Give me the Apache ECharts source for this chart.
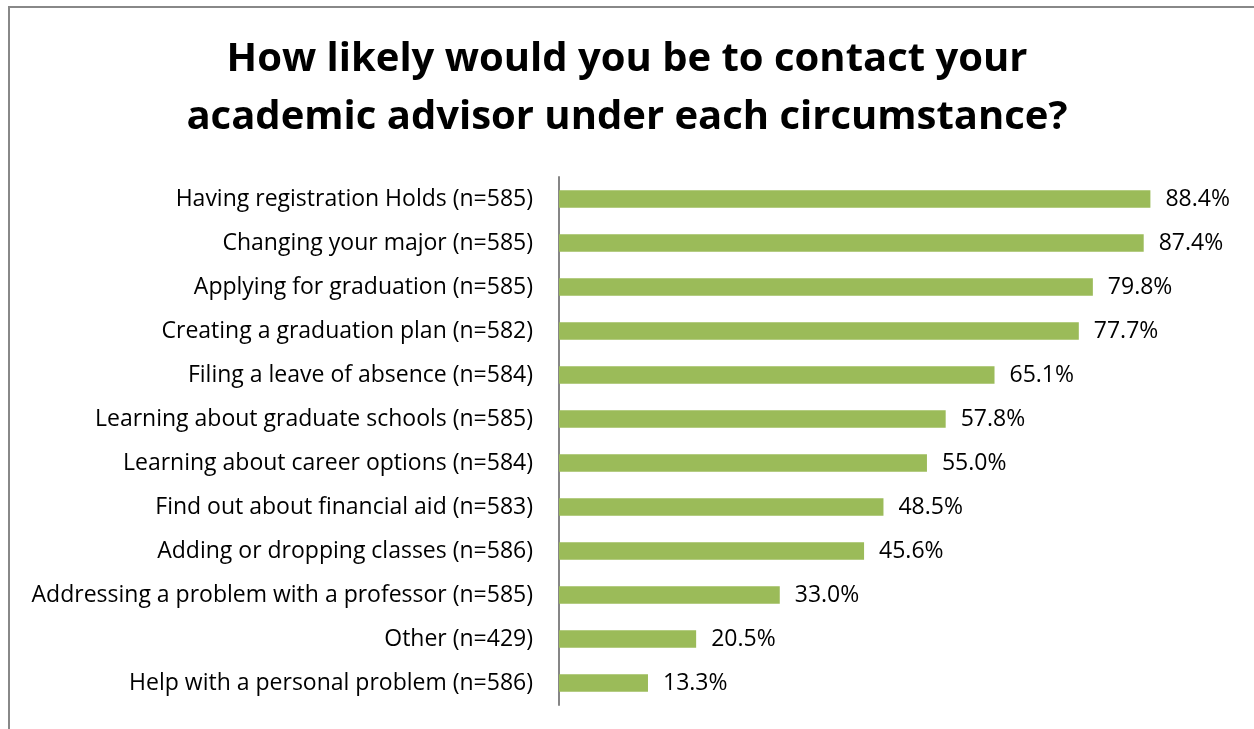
<!DOCTYPE html>
<html>
<head>
<meta charset="utf-8">
<script src="https://cdn.jsdelivr.net/npm/echarts@6/dist/echarts.min.js"></script>
<style>
html,body{margin:0;padding:0;background:#fff;}
#chart{width:1254px;height:729px;}
</style>
</head>
<body>
<div id="chart"></div>
<script>
const titleText = 'How likely would you be to contact your\nacademic advisor under each circumstance?';
const categories = [
  'Having registration Holds (n=585)',
  'Changing your major (n=585)',
  'Applying for graduation (n=585)',
  'Creating a graduation plan (n=582)',
  'Filing a leave of absence (n=584)',
  'Learning about graduate schools (n=585)',
  'Learning about career options (n=584)',
  'Find out about financial aid (n=583)',
  'Adding or dropping classes (n=586)',
  'Addressing a problem with a professor (n=585)',
  'Other (n=429)',
  'Help with a personal problem (n=586)'
];
const values = [88.4, 87.4, 79.8, 77.7, 65.1, 57.8, 55.0, 48.5, 45.6, 33.0, 20.5, 13.3];

const chart = echarts.init(document.getElementById('chart'));
chart.setOption({
  backgroundColor: '#fff',
  animation: false,
  graphic: [{
    type: 'rect',
    shape: {x: 9, y: 7, width: 1400, height: 900},
    style: {fill: 'none', stroke: '#888', lineWidth: 2},
    silent: true
  }],
  title: {
    text: titleText,
    left: 'center',
    top: 26,
    textStyle: {
      fontFamily: 'Open Sans',
      fontWeight: 'bold',
      fontSize: 40,
      lineHeight: 58,
      color: '#000'
    }
  },
  grid: {left: 559, right: 26, top: 177, bottom: 24, containLabel: false},
  xAxis: {
    type: 'value',
    min: 0, max: 100,
    show: false
  },
  yAxis: {
    type: 'category',
    data: categories,
    inverse: true,
    axisLine: {show: true, lineStyle: {color: '#868686', width: 2}},
    axisTick: {show: false},
    axisLabel: {
      margin: 26,
      fontFamily: 'Open Sans',
      fontSize: 23,
      color: '#000'
    }
  },
  series: [{
    type: 'bar',
    data: values,
    barCategoryGap: '60%',
    itemStyle: {color: '#9BBB59'},
    label: {
      show: true,
      position: 'right',
      distance: 15,
      fontFamily: 'Open Sans',
      fontSize: 23,
      color: '#000',
      formatter: p => p.value.toFixed(1) + '%'
    }
  }]
});
</script>
</body>
</html>
